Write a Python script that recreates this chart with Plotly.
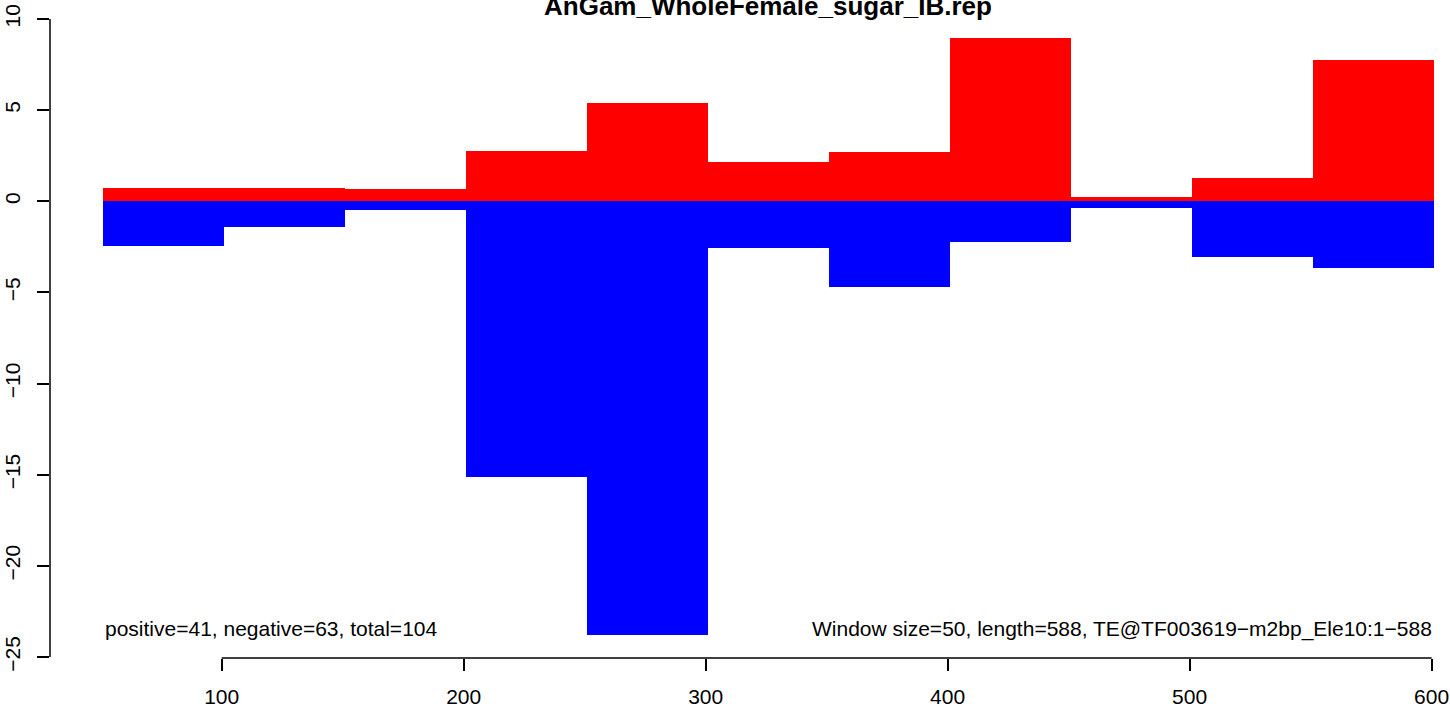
import plotly.graph_objects as go

# ---- data ----
window_size = 50
window_starts = [51, 101, 151, 201, 251, 301, 351, 401, 451, 501, 551]
pos_vals = [0.73, 0.73, 0.68, 2.78, 5.41, 2.18, 2.72, 8.97, 0.26, 1.30, 7.77]
neg_vals = [-2.47, -1.43, -0.49, -15.13, -23.79, -2.54, -4.71, -2.25, -0.38, -3.07, -3.67]
x_ticks = [100, 200, 300, 400, 500, 600]
y_ticks = [-25, -20, -15, -10, -5, 0, 5, 10]
title_text = "AnGam_WholeFemale_sugar_IB.rep"
left_note = "positive=41, negative=63, total=104"
right_note = "Window size=50, length=588, TE@TF003619\u2212m2bp_Ele10:1\u2212588"

FONT = "Liberation Sans, Arial, Helvetica, sans-serif"
centers = [s + window_size / 2 for s in window_starts]

fig = go.Figure()
fig.add_trace(go.Bar(x=centers, y=pos_vals, width=window_size,
                     marker=dict(color="#FF0000", line=dict(width=0)), showlegend=False))
fig.add_trace(go.Bar(x=centers, y=neg_vals, width=window_size,
                     marker=dict(color="#0000FF", line=dict(width=0)), showlegend=False))

W, H = 1450, 709
ml, mr, mt, mb = 50, 0, 0, 51

fig.update_layout(
    width=W, height=H,
    margin=dict(l=ml, r=mr, t=mt, b=mb, pad=0, autoexpand=False),
    barmode="overlay", bargap=0,
    plot_bgcolor="white", paper_bgcolor="white",
    font=dict(family=FONT, size=21, color="black"),
    xaxis=dict(range=[29.05, 607.6], tickvals=x_ticks, ticktext=[str(v) for v in x_ticks],
               ticks="outside", ticklen=12, tickwidth=1.5, tickcolor="black",
               showline=False, showgrid=False, zeroline=False, automargin=False,
               tickfont=dict(family=FONT, size=21), ticklabelstandoff=8),
    yaxis=dict(range=[-25.055, 11.04], tickvals=y_ticks,
               ticks="outside", ticklen=12, tickwidth=1.5, tickcolor="black",
               showline=False, showgrid=False, zeroline=False, tickangle=-90, automargin=False,
               tickfont=dict(family=FONT, size=21), ticklabelstandoff=9),
)

# R-style axis lines spanning only the tick range
fig.add_shape(type="line", xref="x", yref="paper", x0=x_ticks[0], x1=x_ticks[-1], y0=0, y1=0,
              line=dict(color="black", width=1.5))
fig.add_shape(type="line", xref="paper", yref="y", x0=0, x1=0, y0=y_ticks[0], y1=y_ticks[-1],
              line=dict(color="black", width=1.5))

# title (partly cut at top like the reference)
plot_w = W - ml - mr
plot_h = H - mt - mb
title_cx = (768 - ml) / plot_w
title_cy = 1 - (5.5 - mt) / plot_h
fig.add_annotation(text="<b>" + title_text + "</b>", xref="paper", yref="paper",
                   x=title_cx, y=title_cy, xanchor="center", yanchor="middle",
                   showarrow=False, font=dict(family=FONT, size=26, color="black"))

fig.add_annotation(text=left_note, xref="x", yref="y", x=window_starts[0], y=-23.45,
                   xanchor="left", yanchor="middle", showarrow=False,
                   font=dict(family=FONT, size=21, color="black"))
fig.add_annotation(text=right_note, xref="x", yref="y", x=window_starts[-1] + window_size, y=-23.45,
                   xanchor="right", yanchor="middle", showarrow=False,
                   font=dict(family=FONT, size=21, color="black"))

fig.write_html("out.html", config={"displayModeBar": False},
               post_script="document.body.style.margin='0';document.body.style.overflow='hidden';")
